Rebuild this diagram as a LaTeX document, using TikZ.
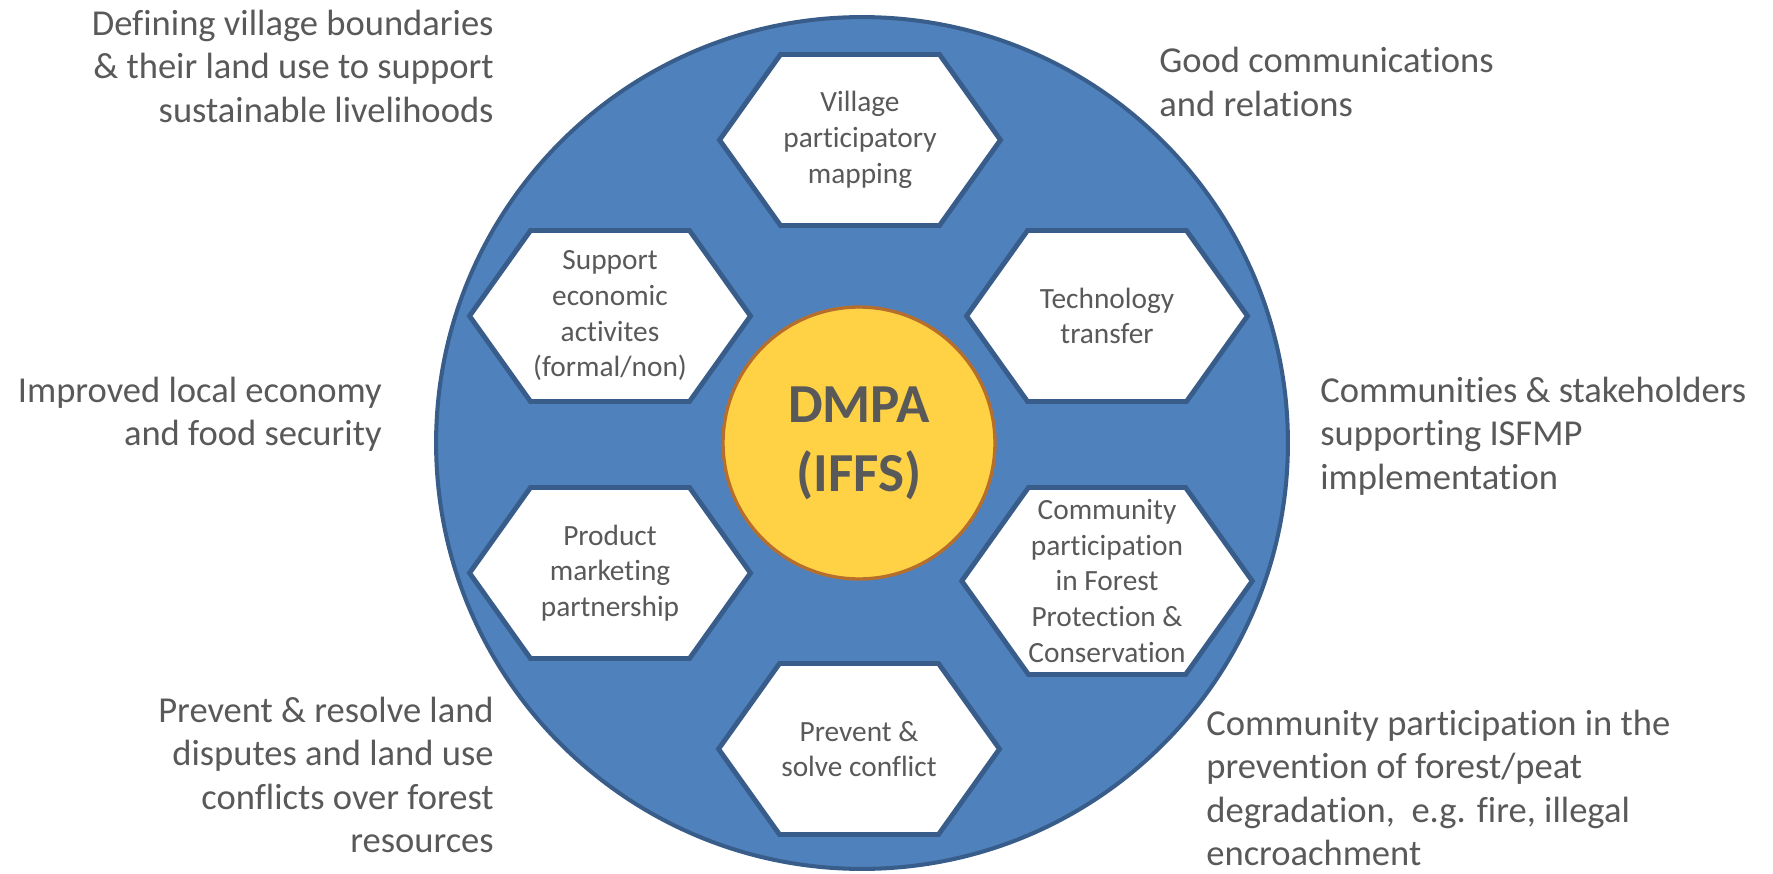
\documentclass[tikz,border=0pt]{standalone}
\usepackage{fontspec}
\setmainfont{Carlito}[Ligatures=NoCommon]
\usepackage{tikz}
\usetikzlibrary{shapes.symbols}
\definecolor{ring_fill}{RGB}{79, 129, 189}
\definecolor{ring_edge}{RGB}{56, 93, 138}
\definecolor{hub_fill}{RGB}{255, 210, 70}
\definecolor{hub_edge}{RGB}{182, 110, 45}
\definecolor{label_gray}{RGB}{89, 89, 89}

\begin{document}
\begin{tikzpicture}[x=0.02cm, y=-0.02cm,
  hexbox/.style={shape=signal, signal to=east and west, signal pointer angle=109,
    draw=ring_edge, line width=2.8pt, fill=white, text=label_gray,
    minimum width=5.62cm, minimum height=3.42cm, inner xsep=0pt, inner ysep=3pt,
    align=center, font=\fontsize{16.7}{20.3}\selectfont},
  outer/.style={text=label_gray, inner sep=0pt, font=\fontsize{20.8}{24.75}\selectfont}]
\useasboundingbox (0,0) rectangle (1773,874);

\node[circle, draw=ring_edge, line width=2.3pt, fill=ring_fill, minimum size=17.04cm] (ring) at (862,443) {};

\node[hexbox] (mapping) at (860,140) {Village\\participatory\\mapping};
\node[hexbox] (economic) at (610,316) {Support\\economic\\activites\\(formal/non)};
\node[hexbox] (transfer) at (1107,316) {Technology\\transfer};
\node[hexbox] (marketing) at (610,573) {Product\\marketing\\partnership};
\node[hexbox, minimum height=3.74cm] (protection) at (1107,581)
  {Community\\participation\\in Forest\\Protection \&\\Conservation};
\node[hexbox] (conflict) at (859,749) {Prevent \&\\solve conflict};

\node[circle, draw=hub_edge, line width=1.9pt, fill=hub_fill, minimum size=5.44cm,
  text=label_gray, align=center, font=\fontsize{31.3}{39.3}\selectfont\bfseries]
  (hub) at (859,443) {DMPA\\(IFFS)};

\node[outer, anchor=east, align=right] (boundaries) at (494,66)
  {Defining village boundaries\\\& their land use to support\\sustainable livelihoods};
\node[outer, anchor=west, align=left] (relations) at (1159,82)
  {Good communications\\and relations};
\node[outer, anchor=east, align=right] (economy) at (382,414)
  {Improved local economy\\and food security};
\node[outer, anchor=west, align=left] (stakeholders) at (1320,436)
  {Communities \& stakeholders\\supporting ISFMP\\implementation};
\node[outer, anchor=east, align=right] (disputes) at (494,775)
  {Prevent \& resolve land\\disputes and land use\\conflicts over forest\\resources};
\node[outer, anchor=west, align=left] (degradation) at (1206,788)
  {Community participation in the\\prevention of forest/peat\\degradation,\ \ e.g. fire, illegal\\encroachment};
\end{tikzpicture}
\end{document}
